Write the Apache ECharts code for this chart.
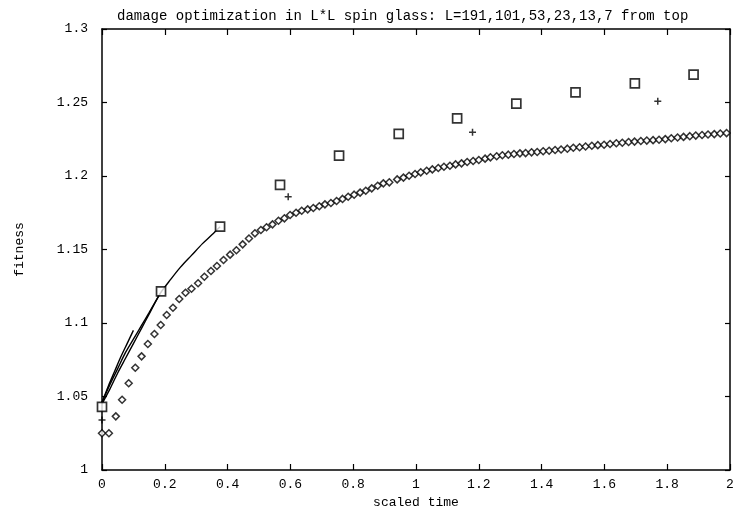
<!DOCTYPE html>
<html><head><meta charset="utf-8">
<script src="https://cdn.jsdelivr.net/npm/echarts@6/dist/echarts.min.js"></script>
<style>html,body{margin:0;padding:0;background:#fff}#c{width:733px;height:508px}</style>
</head><body><div id="c"></div>
<script>
const titleText = 'damage optimization in L*L spin glass: L=191,101,53,23,13,7 from top';
const xName = 'scaled time';
const yName = 'fitness';

// L=191 (shortest solid line)
const l191X = [0, 0.02, 0.04, 0.06, 0.08, 0.1];
const l191Y = [1.046, 1.057, 1.067, 1.077, 1.086, 1.095];
// L=101
const l101X = [0, 0.025, 0.05, 0.075, 0.1, 0.125, 0.15, 0.185];
const l101Y = [1.046, 1.058, 1.069, 1.080, 1.089, 1.098, 1.107, 1.120];
// L=53
const l53X = [0, 0.025, 0.05, 0.075, 0.1, 0.125, 0.15, 0.185, 0.22, 0.25, 0.285, 0.32, 0.35, 0.376];
const l53Y = [1.045, 1.055, 1.066, 1.076, 1.086, 1.096, 1.106, 1.120, 1.130, 1.138, 1.146, 1.154, 1.160, 1.1655];
// L=23 squares
const sqX = [0, 0.188, 0.376, 0.567, 0.755, 0.945, 1.131, 1.3195, 1.508, 1.697, 1.884];
const sqY = [1.043, 1.1215, 1.1655, 1.1939, 1.2138, 1.2286, 1.2392, 1.2492, 1.2569, 1.263, 1.2689];
// L=13 plus
const plX = [0, 0.593, 1.180, 1.770];
const plY = [1.034, 1.1859, 1.2297, 1.2508];
// L=7 diamonds
const dmX = [0, 0.022, 0.044, 0.064, 0.085, 0.106, 0.126, 0.146, 0.167, 0.187, 0.206, 0.226, 0.246, 0.266, 0.285, 0.306, 0.326, 0.347, 0.366, 0.387,
  0.408, 0.428, 0.448, 0.468, 0.487,
  0.506, 0.524, 0.543, 0.562, 0.581, 0.599, 0.618, 0.636, 0.655, 0.673, 0.692, 0.71, 0.729, 0.747, 0.766, 0.784, 0.803, 0.822, 0.84, 0.859, 0.878, 0.896, 0.915,
  0.94, 0.96, 0.978, 0.997, 1.015, 1.034, 1.052, 1.071, 1.089, 1.108, 1.126, 1.145, 1.163, 1.182, 1.2, 1.22, 1.237, 1.257, 1.275, 1.294, 1.312, 1.331, 1.349, 1.368, 1.386, 1.405, 1.424, 1.443,
  1.462, 1.482, 1.501, 1.521, 1.540, 1.560, 1.579, 1.599, 1.618, 1.638, 1.657, 1.677, 1.696, 1.716, 1.735, 1.755, 1.774, 1.794, 1.813, 1.833, 1.852, 1.872, 1.891, 1.911, 1.930, 1.950, 1.969, 1.989];
const dmY = [1.025, 1.025, 1.0365, 1.0478, 1.059, 1.0696, 1.0773, 1.0857, 1.0925, 1.0986, 1.1054, 1.1104, 1.1163, 1.1206, 1.1233, 1.127, 1.1315, 1.1354, 1.1388, 1.1429,
  1.1465, 1.1495, 1.1535, 1.1575, 1.161,
  1.1633, 1.1651, 1.1671, 1.1696, 1.1712, 1.1735, 1.175, 1.1764, 1.1773, 1.1782, 1.1794, 1.1807, 1.1816, 1.183, 1.1844, 1.1859, 1.1873, 1.1887, 1.19, 1.1916, 1.1934, 1.195, 1.1957,
  1.1977, 1.1989, 1.2002, 1.2014, 1.2025, 1.2036, 1.2045, 1.2054, 1.2063, 1.207, 1.2079, 1.2086, 1.2095, 1.2102, 1.2109, 1.2118, 1.2127, 1.2134, 1.2141, 1.2145, 1.215, 1.2154, 1.2156, 1.2161, 1.2163, 1.2168, 1.2172, 1.2177,
  1.2180, 1.2186, 1.2192, 1.2196, 1.2201, 1.2206, 1.2210, 1.2213, 1.2218, 1.2223, 1.2226, 1.2231, 1.2234, 1.2238, 1.2241, 1.2244, 1.2247, 1.2251, 1.2257, 1.2262, 1.2266, 1.2271, 1.2275, 1.2279, 1.2282, 1.2285, 1.2289, 1.2292];

const pairs = (xs, ys) => xs.map((x, i) => [x, ys[i]]);
const font = "'Liberation Mono', 'DejaVu Sans Mono', monospace";
const black = '#000';

const baseAxis = {
  type: 'value',
  axisLine: { show: true, onZero: false, lineStyle: { color: black, width: 1.5 } },
  axisTick: { show: true, inside: true, length: 6, lineStyle: { color: black, width: 1.2 } },
  splitLine: { show: false }
};

const chart = echarts.init(document.getElementById('c'), null, { renderer: 'canvas' });
chart.setOption({
  animation: false,
  backgroundColor: '#fff',
  title: {
    text: titleText, left: 112, top: 4,
    textStyle: { fontFamily: font, fontSize: 14, fontWeight: 'normal', color: black }
  },
  grid: { left: 102, right: 3, top: 29, bottom: 38, containLabel: false, outerBoundsMode: 'none' },
  xAxis: [
    Object.assign({}, baseAxis, {
      min: 0, max: 2, interval: 0.2, position: 'bottom',
      axisLabel: { color: black, fontFamily: font, fontSize: 13, margin: 8 },
      name: xName, nameLocation: 'middle', nameGap: 22,
      nameTextStyle: { color: black, fontFamily: font, fontSize: 13 }
    }),
    Object.assign({}, baseAxis, {
      min: 0, max: 2, interval: 0.2, position: 'top',
      axisLabel: { show: false }
    })
  ],
  yAxis: [
    Object.assign({}, baseAxis, {
      min: 1, max: 1.3, interval: 0.05, position: 'left',
      axisTick: { show: true, inside: true, length: 5, lineStyle: { color: black, width: 1.2 } },
      axisLabel: { color: black, fontFamily: font, fontSize: 13, margin: 14 },
      name: yName, nameLocation: 'middle', nameGap: 76, nameRotate: 90,
      nameTextStyle: { color: black, fontFamily: font, fontSize: 13 }
    }),
    Object.assign({}, baseAxis, {
      min: 1, max: 1.3, interval: 0.05, position: 'right',
      axisTick: { show: true, inside: true, length: 5, lineStyle: { color: black, width: 1.2 } },
      axisLabel: { show: false }
    })
  ],
  series: [
    { name: 'L=7', type: 'scatter', data: pairs(dmX, dmY), symbol: 'diamond', symbolSize: [7, 7],
      itemStyle: { color: '#fff', borderColor: black, borderWidth: 1.5 }, z: 2 },
    { name: 'L=191', type: 'line', data: pairs(l191X, l191Y), showSymbol: false, smooth: 0.3,
      lineStyle: { color: black, width: 1.4 }, z: 3 },
    { name: 'L=101', type: 'line', data: pairs(l101X, l101Y), showSymbol: false, smooth: 0.3,
      lineStyle: { color: black, width: 1.4 }, z: 3 },
    { name: 'L=53', type: 'line', data: pairs(l53X, l53Y), showSymbol: false, smooth: 0.3,
      lineStyle: { color: black, width: 1.4 }, z: 3 },
    { name: 'L=23', type: 'scatter', data: pairs(sqX, sqY), symbol: 'rect', symbolSize: 9,
      itemStyle: { color: '#fff', borderColor: black, borderWidth: 1.7 }, z: 4 },
    { name: 'L=13', type: 'scatter', data: pairs(plX, plY), symbol: 'path://M0,5L10,5M5,0L5,10', symbolSize: 7,
      itemStyle: { color: 'transparent', borderColor: black, borderWidth: 1.5 }, z: 4 }
  ]
});
</script>
</body></html>
